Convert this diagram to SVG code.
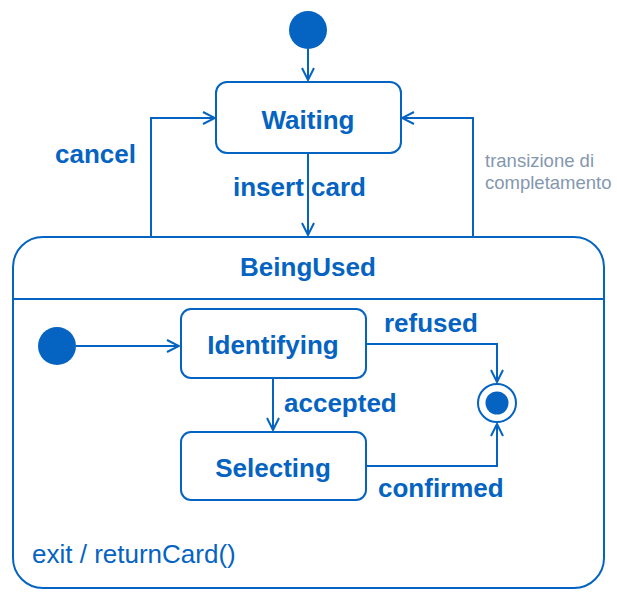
<svg xmlns="http://www.w3.org/2000/svg" width="617" height="599" viewBox="0 0 617 599">
<style>
.s{fill:none;stroke:#0563C1;stroke-width:2}
.b{font-family:"Liberation Sans",Arial,sans-serif;font-weight:bold;font-size:26px;fill:#0563C1}
.n{font-family:"Liberation Sans",Arial,sans-serif;font-size:26px;fill:#0563C1}
.g{font-family:"Liberation Sans",Arial,sans-serif;font-size:18.5px;fill:#8497B0}
.f{fill:#0563C1}
</style>
<defs>
<marker id="a" viewBox="0 0 14 14" refX="13" refY="7" markerWidth="14" markerHeight="14" markerUnits="userSpaceOnUse" orient="auto">
<path d="M1,1 L13,7 L1,13" fill="none" stroke="#0563C1" stroke-width="2"/>
</marker>
</defs>
<rect width="617" height="599" fill="#fff"/>
<g id="init-top"><circle class="f" cx="308" cy="30" r="19"/></g>
<g id="waiting"><rect class="s" x="216" y="82" width="185" height="71" rx="11"/><text class="b" x="308" y="129" text-anchor="middle">Waiting</text></g>
<g id="beingused">
<rect class="s" x="13" y="237" width="591" height="351" rx="30"/>
<line class="s" x1="13" y1="299" x2="604" y2="299"/>
<text class="b" x="308" y="276" text-anchor="middle">BeingUsed</text>
<text class="n" x="32" y="563">exit / returnCard()</text>
</g>
<g id="init-inner"><circle class="f" cx="57" cy="346" r="19"/></g>
<g id="identifying"><rect class="s" x="181" y="309" width="185" height="69" rx="10"/><text class="b" x="273" y="354" text-anchor="middle">Identifying</text></g>
<g id="selecting"><rect class="s" x="181" y="432" width="185" height="68" rx="10"/><text class="b" x="273" y="477" text-anchor="middle">Selecting</text></g>
<g id="final"><circle class="s" cx="497" cy="403" r="19"/><circle class="f" cx="497" cy="403" r="11.5"/></g>
<g id="connectors">
<path class="s" d="M308,49 V80" marker-end="url(#a)"/>
<path class="s" d="M308,153 V235" marker-end="url(#a)"/>
<path class="s" d="M151,237 V118 H215" marker-end="url(#a)"/>
<path class="s" d="M473,237 V118 H402" marker-end="url(#a)"/>
<path class="s" d="M76,346 H179" marker-end="url(#a)"/>
<path class="s" d="M273,378 V430" marker-end="url(#a)"/>
<path class="s" d="M366,344 H497 V382" marker-end="url(#a)"/>
<path class="s" d="M366,466 H497 V424" marker-end="url(#a)"/>
<text class="b" x="55" y="163">cancel</text>
<text class="b" x="233" y="196">insert card</text>
<text class="b" x="284" y="412">accepted</text>
<text class="b" x="384" y="332">refused</text>
<text class="b" x="378" y="497">confirmed</text>
<text class="g" x="485" y="167">transizione di</text>
<text class="g" x="485" y="189">completamento</text>
</g>
</svg>
